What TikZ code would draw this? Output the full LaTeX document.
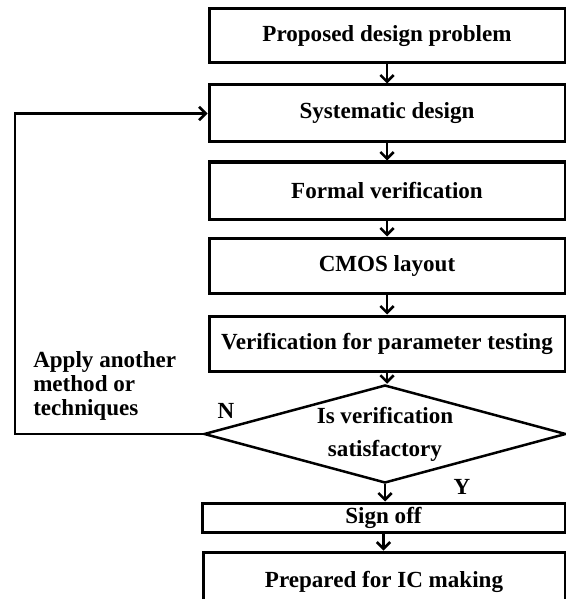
\documentclass[tikz,border=0pt]{standalone}
\usepackage{fontspec}
\setmainfont{Liberation Serif}
\usetikzlibrary{shapes.geometric,arrows.meta}
\newlength\pxu
\setlength\pxu{0.75pt}
\begin{document}
\begin{tikzpicture}[x=0.75pt,y=-0.75pt,
	box/.style={draw,line width=3\pxu,minimum width=356\pxu,inner sep=0,font=\fontsize{17.3}{19}\selectfont\bfseries},
	decision/.style={draw,diamond,aspect=3.7,line width=2.5\pxu,minimum width=362\pxu,minimum height=98\pxu,inner sep=0,align=center,font=\fontsize{17.3}{19.5}\selectfont\bfseries},
	arr/.style={line width=2.5\pxu,-{Straight Barb[length=5pt,width=10pt]}},
	txt/.style={inner sep=0,font=\fontsize{17.3}{18}\selectfont\bfseries}]
	\useasboundingbox (0,0) rectangle (566,599);
	\clip (0,0) rectangle (566,599);
	\node[box,minimum height=54\pxu] (prob) at (387,36) {Proposed design problem};
	\node[box,minimum height=57\pxu] (sys) at (387,113.5) {Systematic design};
	\node[box,minimum height=57\pxu] (formal) at (387,190.5) {Formal verification};
	\node[box,minimum height=55\pxu] (cmos) at (387,265.5) {CMOS layout};
	\node[box,minimum height=55\pxu] (param) at (387,343.5) {Verification for parameter testing};
	\node[decision] (check) at (385,434) {Is verification\\[7\pxu]satisfactory};
	\node[box,minimum width=363\pxu,minimum height=29\pxu] (sign) at (383.5,517.5) {Sign off};
	\node[box,minimum width=362\pxu,minimum height=60\pxu] (ic) at (384,582) {Prepared for IC making};
	\node[txt,anchor=west,align=left] (apply) at (33,386) {Apply another\\method or\\techniques};
	\node[txt] (no) at (226,411) {N};
	\node[txt] (yes) at (462,487) {Y};
	\coordinate (back) at (15,434);
	\draw[arr] (prob) -- (sys);
	\draw[arr] (sys) -- (formal);
	\draw[arr] (formal) -- (cmos);
	\draw[arr] (cmos) -- (param);
	\draw[arr] (param.south) -- (param.south |- check.north);
	\draw[arr] (check.south) -- (check.south |- sign.north);
	\draw[arr] (sign.south) -- (sign.south |- ic.north);
	\draw[arr] (check.west) -- (back) |- (sys.west);
\end{tikzpicture}
\end{document}
